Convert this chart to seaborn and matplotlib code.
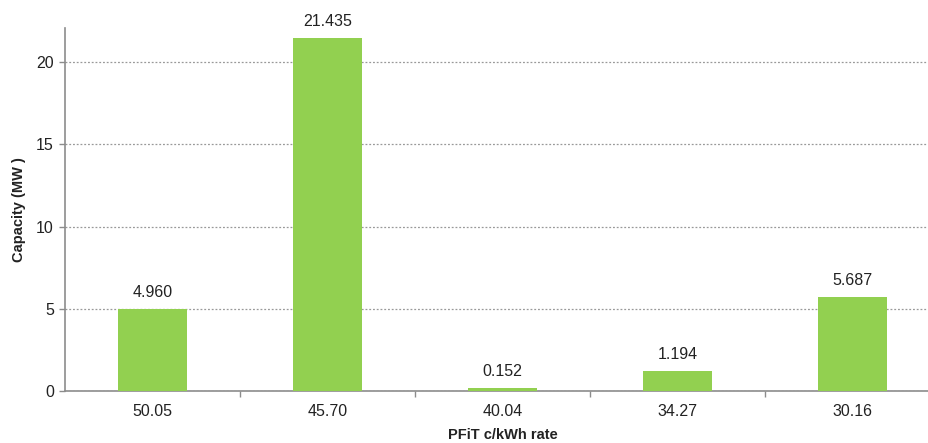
import matplotlib
matplotlib.use("Agg")
import matplotlib.pyplot as plt
import seaborn as sns
import pandas as pd

# PFiT rate bands and installed capacity per band
rates = ["50.05", "45.70", "40.04", "34.27", "30.16"]
capacity_mw = [4.960, 21.435, 0.152, 1.194, 5.687]
value_labels = ["4.960", "21.435", "0.152", "1.194", "5.687"]

sns.set_theme(style="white")
plt.rcParams["font.family"] = ["Liberation Sans", "DejaVu Sans"]

df = pd.DataFrame({"rate": rates, "capacity": capacity_mw})

fig = plt.figure(figsize=(9.29, 4.43), dpi=100)
ax = fig.add_axes([65 / 929, 1 - 391 / 443, 875 / 929, (391 - 28) / 443])

sns.barplot(data=df, x="rate", y="capacity", color="#92D050", saturation=1,
            width=0.394, linewidth=0, edgecolor="none", ax=ax, zorder=3)

ax.set_xlim(-0.5, 4.5)
ax.set_ylim(0, 22.07)
ax.set_yticks([0, 5, 10, 15, 20])

# dotted horizontal gridlines
ax.yaxis.grid(True, linestyle=(0, (1.5, 1.5)), color="#999999", linewidth=0.9, zorder=0)
ax.xaxis.grid(False)

for side in ["top", "right"]:
    ax.spines[side].set_visible(False)
for side in ["left", "bottom"]:
    ax.spines[side].set_color("#8c8c8c")
    ax.spines[side].set_linewidth(1.2)

# category labels centred, tick marks on the category boundaries
ax.set_xticks(range(len(rates)))
ax.set_xticklabels(rates)
ax.set_xticks([i + 0.5 for i in range(len(rates) - 1)], minor=True)
ax.tick_params(axis="x", which="major", length=0, labelsize=11.5, labelcolor="#222222", pad=9)
ax.tick_params(axis="x", which="minor", bottom=True, length=4, width=1, color="#8c8c8c")
ax.tick_params(axis="y", left=True, length=4, width=1, color="#8c8c8c",
               labelsize=11.5, labelcolor="#222222", pad=4)

for i, (v, lab) in enumerate(zip(capacity_mw, value_labels)):
    ax.annotate(lab, (i, v), xytext=(0, 7), textcoords="offset points",
                ha="center", va="bottom", fontsize=11.5, color="#222222")

ax.set_xlabel("PFiT c/kWh rate", fontsize=10.5, fontweight="bold", color="#222222", labelpad=7)
ax.set_ylabel("Capacity (MW )", fontsize=10.5, fontweight="bold", color="#222222", labelpad=7)

fig.savefig("out.png", dpi=100)
